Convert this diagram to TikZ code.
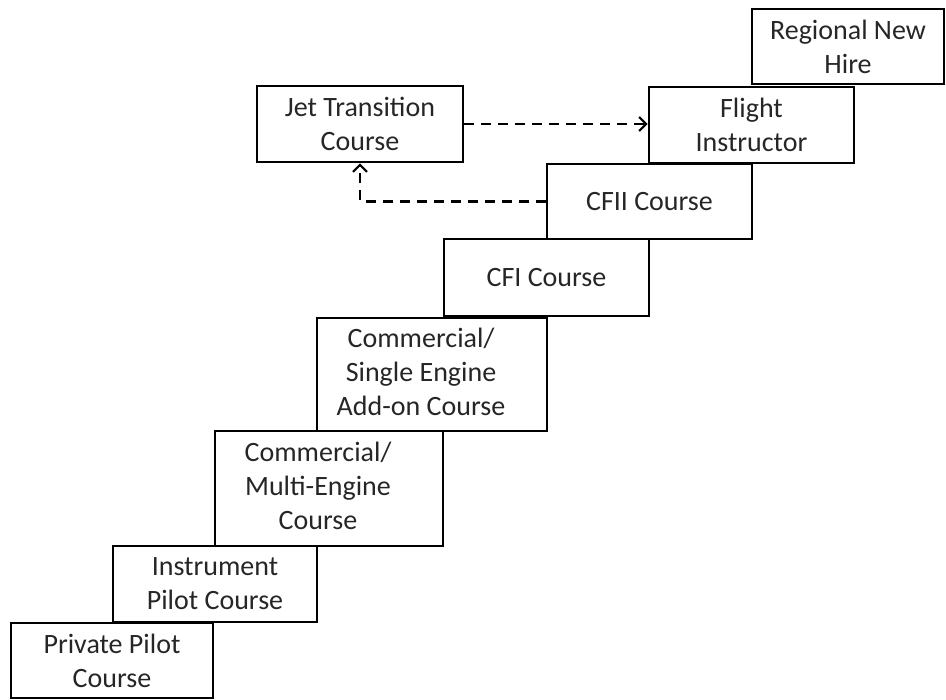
\documentclass[tikz,border=0pt]{standalone}
\usepackage{fontspec}
\setmainfont{Carlito}
\usepackage{tikz}
\usetikzlibrary{positioning,arrows.meta}

\begin{document}
\begin{tikzpicture}[x=1pt,y=-1pt,
    course/.style={draw, line width=2.6pt, align=center, inner sep=0pt,
        text=black!85, font=\fontsize{28}{34}\selectfont},
    link/.style={line width=2.6pt, dash pattern=on 10pt off 7pt,
        -{Straight Barb[length=7pt,width=14pt,line width=2.2pt]}}]
    \useasboundingbox (0,0) rectangle (946,700);
    % the ladder of courses, bottom to top
    \node[course, minimum width=202, minimum height=75] (private) at (112,660.5) {Private Pilot\\Course};
    \node[course, minimum width=204, minimum height=76] (instrument) at (215,584) {Instrument\\Pilot Course};
    \node[course, minimum width=228, minimum height=115] (multi) at (329,488.5)
        {\begin{tabular}{@{}c@{}}Commercial/\\Multi-Engine\\Course\end{tabular}\hspace*{22pt}};
    \node[course, minimum width=230, minimum height=113] (single) at (432,374.5)
        {\begin{tabular}{@{}c@{}}Commercial/\\Single Engine\\Add-on Course\end{tabular}\hspace*{22pt}};
    \node[course, minimum width=205, minimum height=77] (cfi) at (546.5,277.5) {CFI Course};
    \node[course, minimum width=205, minimum height=75] (cfii) at (649.5,201.5) {CFII Course};
    \node[course, minimum width=205, minimum height=76] (instructor) at (751.5,125) {Flight\\Instructor};
    \node[course, minimum width=192, minimum height=75] (regional) at (848,46.5) {Regional New\\Hire};
    % side branch
    \node[course, minimum width=206, minimum height=76] (jet) at (360,124) {Jet Transition\\Course};

    \draw[link] (jet.east) -- (jet.east -| instructor.west);
    \draw[link] (cfii.west) -| (jet.south);
\end{tikzpicture}
\end{document}
